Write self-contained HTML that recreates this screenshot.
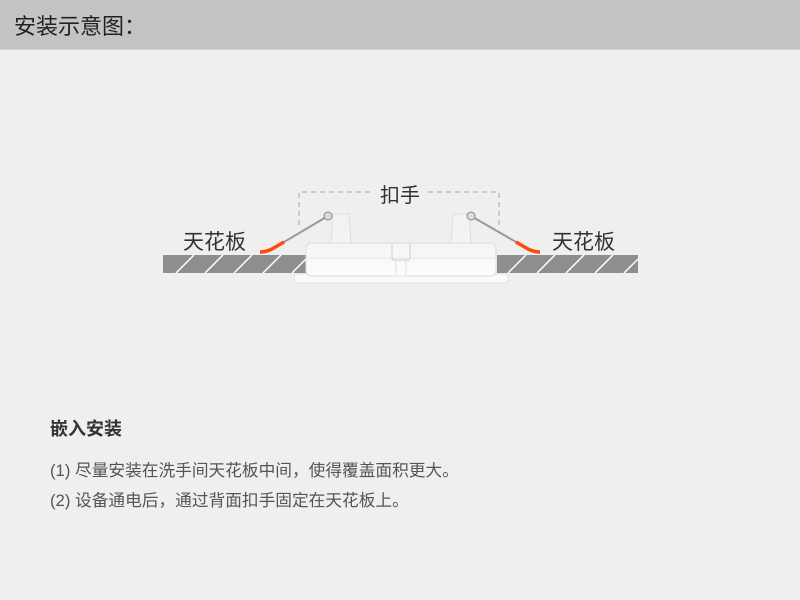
<!DOCTYPE html>
<html><head><meta charset="utf-8"><style>
body{margin:0;width:800px;height:600px;background:#efefef;font-family:"Liberation Sans","Noto Sans CJK SC",sans-serif;position:relative;overflow:hidden}
.hd{position:absolute;left:0;top:0;width:800px;height:49px;background:#c3c3c3;border-bottom:1px solid #d6d6d6}
.hd span{position:absolute;left:14px;top:10px;font-size:22px;color:#222;line-height:30px;font-family:"Noto Sans CJK SC",sans-serif}
.t{position:absolute;color:#444;white-space:nowrap}
</style></head><body>
<div class="hd"><span>安装示意图：</span></div>
<svg style="position:absolute;left:0;top:0" width="800" height="600">
<defs>
<clipPath id="cl"><rect x="163" y="255" width="143" height="18"/></clipPath>
<clipPath id="cr"><rect x="497" y="255" width="141" height="18"/></clipPath>
<linearGradient id="lg" x1="0" y1="0" x2="0" y2="1"><stop offset="0" stop-color="#f4f4f4"/><stop offset="1" stop-color="#fdfdfd"/></linearGradient>
</defs>
<rect x="163" y="255" width="143" height="18" fill="#8e8e8e"/>
<rect x="497" y="255" width="141" height="18" fill="#8e8e8e"/>
<g stroke="#fff" stroke-width="1.5" clip-path="url(#cl)">
<line x1="176" y1="273" x2="194" y2="255"/><line x1="205" y1="273" x2="223" y2="255"/><line x1="234" y1="273" x2="252" y2="255"/><line x1="263" y1="273" x2="281" y2="255"/><line x1="292" y1="273" x2="310" y2="255"/></g>
<g stroke="#fff" stroke-width="1.5" clip-path="url(#cr)">
<line x1="508" y1="273" x2="526" y2="255"/><line x1="537" y1="273" x2="555" y2="255"/><line x1="566" y1="273" x2="584" y2="255"/><line x1="595" y1="273" x2="613" y2="255"/><line x1="624" y1="273" x2="642" y2="255"/></g>
<path d="M299 225 V192 H374 M428 192 H499 V225" fill="none" stroke="#bdbdbd" stroke-width="1.5" stroke-dasharray="5,4"/>
<rect x="294" y="274" width="214" height="9" rx="4" fill="#fafafa" stroke="#e2e2e2"/>
<path d="M331 243 L333 214 H349 L351 243 Z" fill="#f3f3f3" stroke="#ddd"/>
<path d="M451 243 L453 214 H469 L471 243 Z" fill="#f3f3f3" stroke="#ddd"/>
<rect x="306" y="243" width="190" height="33" rx="5" fill="url(#lg)" stroke="#ddd"/>
<line x1="307" y1="258" x2="495" y2="258" stroke="#e6e6e6"/>
<path d="M392 243 V258 Q392 260 395 260 H407 Q410 260 410 258 V243" fill="none" stroke="#ccc"/>
<line x1="396" y1="260" x2="396" y2="275" stroke="#ddd"/><line x1="406" y1="260" x2="406" y2="275" stroke="#ddd"/>
<line x1="328" y1="216" x2="284" y2="242" stroke="#999" stroke-width="2"/>
<path d="M284 242 L272 249 Q266 252 260 252" fill="none" stroke="#ff4a0a" stroke-width="3.5"/>
<circle cx="328" cy="216" r="4" fill="#ddd" stroke="#888"/>
<line x1="471" y1="216" x2="516" y2="242" stroke="#999" stroke-width="2"/>
<path d="M516 242 L528 249 Q534 252 540 252" fill="none" stroke="#ff4a0a" stroke-width="3.5"/>
<circle cx="471" cy="216" r="4" fill="#ddd" stroke="#888"/>
</svg>
<div class="t" style="left:380px;top:179px;font-size:20px;color:#333">扣手</div>
<div class="t" style="left:183px;top:226px;font-size:21px;color:#333">天花板</div>
<div class="t" style="left:552px;top:226px;font-size:21px;color:#333">天花板</div>
<div class="t" style="left:50px;top:415px;font-size:18px;font-weight:bold;color:#333">嵌入安装</div>
<div class="t" style="left:50px;top:457px;font-size:16.7px;color:#555">(1) 尽量安装在洗手间天花板中间，使得覆盖面积更大。</div>
<div class="t" style="left:50px;top:487px;font-size:16.7px;color:#555">(2) 设备通电后，通过背面扣手固定在天花板上。</div>
</body></html>
